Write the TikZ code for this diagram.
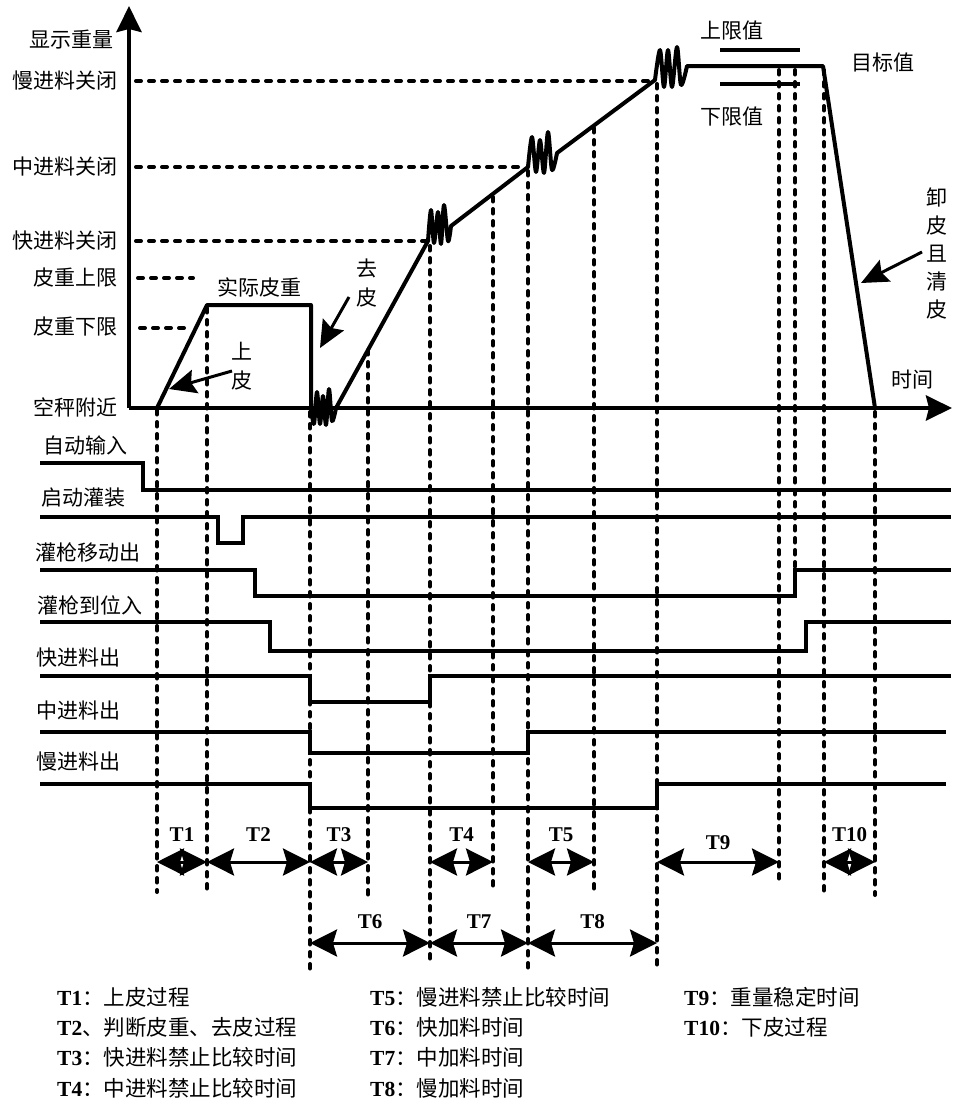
\documentclass[tikz,border=0pt]{standalone}
\usepackage{fontspec}
\setmainfont{Liberation Serif}
\newfontfamily\cjk{Noto Sans CJK SC}
\usetikzlibrary{arrows.meta}
\begin{document}
\begin{tikzpicture}[x=1pt,y=-1pt,
  cj/.style={font=\cjk\fontsize{21}{29}\selectfont, inner sep=0pt, align=center},
  tl/.style={font=\bfseries\fontsize{21}{24}\selectfont, inner sep=0pt},
  lg/.style={font=\fontsize{21.5}{24}\selectfont, inner sep=0pt, anchor=west},
  axis/.style={line width=4pt, -{Stealth[length=26pt,width=25pt,inset=3pt]}},
  curve/.style={line width=4pt, line join=round},
  sig/.style={line width=3.5pt},
  hdash/.style={line width=4pt, dash pattern=on 5pt off 8pt, line cap=round},
  vdot/.style={line width=4pt, dash pattern=on 4.5pt off 7.5pt, line cap=round},
  dim/.style={line width=3pt, {Stealth[length=27pt,width=27pt,inset=4pt]}-{Stealth[length=27pt,width=27pt,inset=4pt]}},
  callout/.style={line width=3pt, -{Stealth[length=27pt,width=24pt,inset=4pt]}}]
\useasboundingbox (0,0) rectangle (953,1104);

% axes
\coordinate (O) at (129,408);
\coordinate (Ytip) at (129,6);
\coordinate (Xtip) at (952,408);
\draw[axis] (O) -- (Ytip);
\draw[axis] (O) -- (Xtip);

% y labels
\node[cj, anchor=east] (ylab) at (114,40) {显示重量};
\node[cj, anchor=east] (lslow) at (118,81) {慢进料关闭};
\node[cj, anchor=east] (lmid) at (118,167) {中进料关闭};
\node[cj, anchor=east] (lfast) at (118,241) {快进料关闭};
\node[cj, anchor=east] (ltup) at (118,278) {皮重上限};
\node[cj, anchor=east] (ltlo) at (118,327) {皮重下限};
\node[cj, anchor=east] (lzero) at (118,407) {空秤附近};
\node[cj] (ltime) at (912,380) {时间};

% horizontal dashed levels
\coordinate (hs0) at (136,81);  \coordinate (hs1) at (652,81);
\coordinate (hm0) at (136,167); \coordinate (hm1) at (525,167);
\coordinate (hf0) at (136,241); \coordinate (hf1) at (426,241);
\coordinate (hu0) at (138,278); \coordinate (hu1) at (193,278);
\coordinate (hl0) at (140,328); \coordinate (hl1) at (190,328);
\draw[hdash] (hs0) -- (hs1);
\draw[hdash] (hm0) -- (hm1);
\draw[hdash] (hf0) -- (hf1);
\draw[hdash] (hu0) -- (hu1);
\draw[hdash] (hl0) -- (hl1);

% vertical dotted lines
\foreach \n/\x/\a/\b in {v1/157/410/892, v2/207/308/892, v3/310/412/972, v4/368/350/898,
  v5/430/246/965, v6/493/197/888, v7/528/171/968, v8/594/128/892, v9/657/84/972,
  v10/779/70/885, v11/795/70/594, v12/824/70/895, v13/875/412/895}{
  \coordinate (\n a) at (\x,\a); \coordinate (\n b) at (\x,\b);
  \draw[vdot] (\n a) -- (\n b);
}

% main weight curve
\draw[curve] (157,408) -- (207,305) -- (311,305) -- (311,408)
  -- plot[smooth, tension=0.5] coordinates {(311,408) (314,424) (317,392) (320,424) (323,396) (326,425) (329,389) (332,421) (336,408)}
  -- plot[smooth, tension=0.5] coordinates {(428,241) (431,210) (434,243) (438,212) (441,244) (444,205) (448,241) (451,226)}
  -- plot[smooth, tension=0.5] coordinates {(528,167) (532,137) (536,172) (540,140) (544,173) (548,132) (552,170) (557,153)}
  -- plot[smooth, tension=0.5] coordinates {(655,80) (660,50) (664,87) (668,50) (672,87) (677,47) (681,85) (687,66)}
  -- (823,66) -- (875,408);

% limits
\coordinate (ul0) at (720,50); \coordinate (ul1) at (800,50);
\coordinate (ll0) at (720,84); \coordinate (ll1) at (800,84);
\draw[line width=3.5pt] (ul0) -- (ul1);
\draw[line width=3.5pt] (ll0) -- (ll1);
\node[cj] (lup) at (732,31) {上限值};
\node[cj] (llo) at (732,117) {下限值};
\node[cj] (ltarget) at (883,63) {目标值};
\node[cj] (lreal) at (259,287) {实际皮重};

% callouts
\node[cj] (lshang) at (242,366) {上\\皮};
\coordinate (cs0) at (232,371); \coordinate (cs1) at (169,389);
\draw[callout] (cs0) -- (cs1);
\node[cj] (lqu) at (367,283) {去\\皮};
\coordinate (cq0) at (349,297); \coordinate (cq1) at (320,348);
\draw[callout] (cq0) -- (cq1);
\node[cj, font=\cjk\fontsize{21}{28}\selectfont] (lxie) at (937,253) {卸\\皮\\且\\清\\皮};
\coordinate (cx0) at (922,252); \coordinate (cx1) at (861,283);
\draw[callout] (cx0) -- (cx1);

% signals
\node[cj, anchor=west] (s1) at (43,445) {自动输入};
\draw[sig] (40,463) -- (143,463) -- (143,490) -- (951,490);
\node[cj, anchor=west] (s2) at (41,498) {启动灌装};
\draw[sig] (40,517) -- (218,517) -- (218,543) -- (243,543) -- (243,517) -- (951,517);
\node[cj, anchor=west] (s3) at (35,552) {灌枪移动出};
\draw[sig] (40,570) -- (255,570) -- (255,596) -- (795,596) -- (795,570) -- (951,570);
\node[cj, anchor=west] (s4) at (37,605) {灌枪到位入};
\draw[sig] (40,622) -- (270,622) -- (270,651) -- (806,651) -- (806,622) -- (951,622);
\node[cj, anchor=west] (s5) at (36,658) {快进料出};
\draw[sig] (40,676) -- (310,676) -- (310,702) -- (430,702) -- (430,676) -- (951,676);
\node[cj, anchor=west] (s6) at (36,710) {中进料出};
\draw[sig] (40,732) -- (310,732) -- (310,753) -- (528,753) -- (528,732) -- (946,732);
\node[cj, anchor=west] (s7) at (36,762) {慢进料出};
\draw[sig] (40,784) -- (310,784) -- (310,808) -- (657,808) -- (657,784) -- (946,784);

% time intervals row 1
\foreach \n/\a/\b/\ly in {T1/157/207/835, T2/207/310/835, T3/310/368/835, T4/430/493/835,
  T5/528/594/835, T9/657/779/843, T10/824/875/835}{
  \coordinate (\n l) at (\a,862); \coordinate (\n r) at (\b,862);
  \draw[dim] (\n l) -- (\n r);
  \node[tl] (\n lab) at ({(\a+\b)/2},\ly) {\n};
}
% row 2
\foreach \n/\a/\b in {T6/310/430, T7/430/528, T8/528/657}{
  \coordinate (\n l) at (\a,943); \coordinate (\n r) at (\b,943);
  \draw[dim] (\n l) -- (\n r);
  \node[tl] (\n lab) at ({(\a+\b)/2},922) {\n};
}

% legend
\node[lg] (g1) at (57,997) {\textbf{T1}\cjk：上皮过程};
\node[lg] (g2) at (57,1027) {\textbf{T2}\cjk、判断皮重、去皮过程};
\node[lg] (g3) at (57,1057) {\textbf{T3}\cjk：快进料禁止比较时间};
\node[lg] (g4) at (57,1088) {\textbf{T4}\cjk：中进料禁止比较时间};
\node[lg] (g5) at (370,997) {\textbf{T5}\cjk：慢进料禁止比较时间};
\node[lg] (g6) at (370,1027) {\textbf{T6}\cjk：快加料时间};
\node[lg] (g7) at (370,1057) {\textbf{T7}\cjk：中加料时间};
\node[lg] (g8) at (370,1088) {\textbf{T8}\cjk：慢加料时间};
\node[lg] (g9) at (684,997) {\textbf{T9}\cjk：重量稳定时间};
\node[lg] (g10) at (684,1027) {\textbf{T10}\cjk：下皮过程};
\end{tikzpicture}
\end{document}
